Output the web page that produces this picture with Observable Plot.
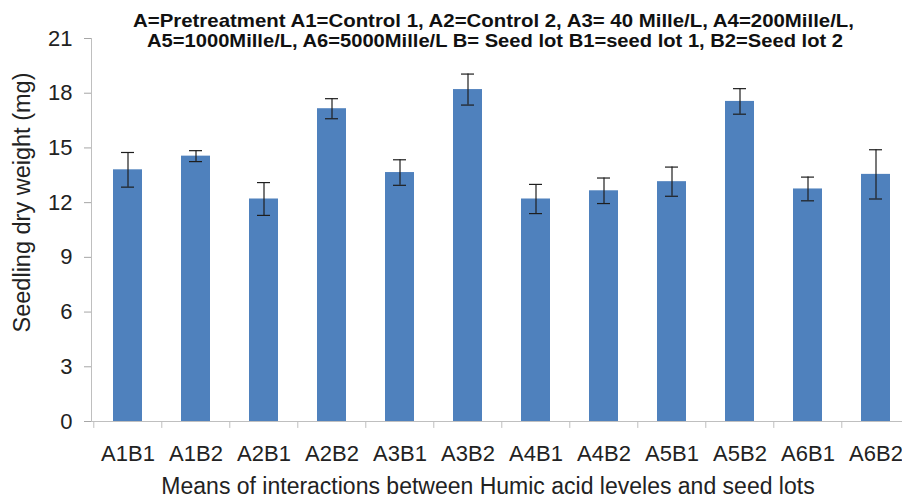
<!DOCTYPE html>
<html>
<head>
<meta charset="utf-8">
<script src="https://cdn.jsdelivr.net/npm/d3@7"></script>
<script src="https://cdn.jsdelivr.net/npm/@observablehq/plot@0.6"></script>
<style>
  html, body { margin: 0; padding: 0; background: #fff; overflow: hidden; }
  #wrap { position: relative; width: 902px; height: 499px; }
  #wrap > svg.title { position: absolute; left: 0; top: 0; }
</style>
</head>
<body>
<div id="wrap"></div>
<script>
// ---- data ----
const categories = ["A1B1","A1B2","A2B1","A2B2","A3B1","A3B2","A4B1","A4B2","A5B1","A5B2","A6B1","A6B2"];
const means      = [13.8, 14.55, 12.2, 17.15, 13.65, 18.2, 12.2, 12.65, 13.15, 17.55, 12.75, 13.55];
const errors     = [0.95, 0.3, 0.9, 0.55, 0.7, 0.85, 0.8, 0.7, 0.8, 0.7, 0.65, 1.35];
const yTicks     = [0, 3, 6, 9, 12, 15, 18, 21];
const titleLines = [
  "A=Pretreatment A1=Control 1, A2=Control 2, A3= 40 Mille/L, A4=200Mille/L,",
  "A5=1000Mille/L, A6=5000Mille/L B= Seed lot B1=seed lot 1, B2=Seed lot 2"
];
const yLabel = "Seedling dry weight (mg)";
const xLabel = "Means of interactions between Humic acid leveles and seed lots";

const data = categories.map((c, i) => ({cat: c, mean: means[i], err: errors[i]}));

const W = 902, H = 499;
const mL = 91, mR = -10, mT = 38, mB = 78;
const step = (W - mR - mL) / categories.length;
const font = "'Liberation Sans', Arial, sans-serif";

const chart = Plot.plot({
  width: W, height: H,
  marginLeft: mL, marginRight: mR, marginTop: mT, marginBottom: mB,
  style: {fontFamily: font, fontSize: "22px", color: "#222", background: "#fff"},
  x: {domain: categories, paddingInner: 0.576, paddingOuter: 0.288, label: null},
  y: {domain: [0, 21], label: null},
  marks: [
    Plot.frame({anchor: "left", stroke: "#bfbfbf"}),
    Plot.barY(data, {x: "cat", y: "mean", fill: "#4f81bd"}),
    Plot.ruleY([0], {stroke: "#bfbfbf", strokeWidth: 1.2}),
    Plot.ruleX(categories, {x: d => d, y1: 0, y2: -0.38, dx: -step / 2, stroke: "#bfbfbf"}),
    Plot.ruleX(data, {x: "cat", y1: d => d.mean - d.err, y2: d => d.mean + d.err, stroke: "#1e1e1e", strokeWidth: 1.2}),
    Plot.tickY(data, {x: "cat", y: d => d.mean + d.err, stroke: "#1e1e1e", strokeWidth: 1.2, insetLeft: 8, insetRight: 8}),
    Plot.tickY(data, {x: "cat", y: d => d.mean - d.err, stroke: "#1e1e1e", strokeWidth: 1.2, insetLeft: 8, insetRight: 8}),
    Plot.axisY({ticks: yTicks, tickSize: 7, tickPadding: 12, stroke: "#a6a6a6", fill: "#222", fontSize: 22, label: null}),
    Plot.axisX({tickSize: 0, tickPadding: 24, fill: "#222", fontSize: 22, label: null}),
    Plot.text([yLabel], {frameAnchor: "left", textAnchor: "middle", lineAnchor: "middle", dx: -69, dy: -27.5, rotate: -90, fontSize: 23.5, fill: "#222"}),
    Plot.text([xLabel], {frameAnchor: "bottom", dx: -14, dy: 72, fontSize: 23, fill: "#222"})
  ]
});

const wrap = document.getElementById("wrap");
wrap.appendChild(chart);

// title overlay
const tsvg = d3.select(wrap).append("svg").attr("class", "title")
  .attr("width", W).attr("height", 60);
const tpos = [{x: 133, y: 27, len: 721}, {x: 147, y: 47, len: 696}];
titleLines.forEach((t, i) => {
  tsvg.append("text")
    .attr("x", tpos[i].x).attr("y", tpos[i].y)
    .attr("textLength", tpos[i].len).attr("lengthAdjust", "spacingAndGlyphs")
    .attr("font-family", font).attr("font-weight", "bold").attr("font-size", 19)
    .attr("fill", "#111")
    .text(t);
});
</script>
</body>
</html>
